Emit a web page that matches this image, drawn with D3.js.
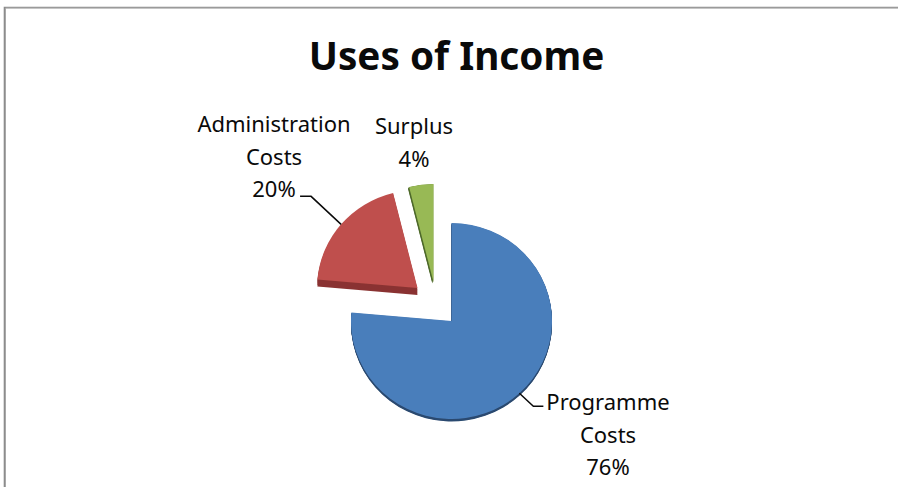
<!DOCTYPE html>
<html><head><meta charset="utf-8">
<script src="https://cdn.jsdelivr.net/npm/d3@7"></script>
<style>
html,body{margin:0;padding:0;background:#fff}
svg{display:block}
text{font-family:"Noto Sans","Open Sans",sans-serif;fill:#0a0a0a}
</style></head><body>
<div id="chart"></div>
<script>
const categories = ["Programme Costs", "Administration Costs", "Surplus"];
const values = [76.4, 19.7, 3.9];
const percentLabels = ["76%", "20%", "4%"];
const labelLines = [["Programme", "Costs"], ["Administration", "Costs"], ["Surplus"]];
const colors = ["#4a7ebb", "#bf504d", "#98b954"];
const sideColors = ["#2b4a70", "#8a3331", "#4f6a2c"];

const W = 898, H = 487;
const cx = 451.5, cy = 321, rx = 100.5, ry = 98;
const sliceOffset = [[0, 0], [-34, -33], [-18, -39]];
const sideDepth = [[0, 2.5], [0, 7], [-1.2, 1.5]];
const labelPos = [[608, 410], [274, 132], [414, 134]];
const lineGap = 32.7;
const leaderElbow = [[[14, 13], [24, 13]], [[-30, -28], [-41, -28]], null];

const svg = d3.select("#chart").append("svg").attr("width", W).attr("height", H);
const defs = svg.append("defs");
defs.append("filter").attr("id", "soft").attr("x", "-5%").attr("y", "-5%").attr("width", "110%").attr("height", "110%")
  .append("feGaussianBlur").attr("stdDeviation", 0.55);

svg.append("rect").attr("width", W).attr("height", H).attr("fill", "#fff");
svg.append("path").attr("d", `M4.5 ${H}V7.5H${W}`).attr("fill", "none").attr("stroke", "#8c8c8c").attr("stroke-width", 1.6);
svg.append("path").attr("d", `M5.5 ${H}V8H${W}`).attr("fill", "none").attr("stroke", "#a8a8a8").attr("stroke-width", 1);

svg.append("text").attr("x", 456.5).attr("y", 70).attr("text-anchor", "middle")
  .attr("font-size", 38.7).attr("font-weight", 700).text("Uses of Income");

const pie = d3.pie().sort(null).value(d => d)(values);
const arc = d3.arc().innerRadius(0).outerRadius(100);

const slices = svg.append("g").attr("filter", "url(#soft)");
pie.forEach((d, i) => {
  const [ox, oy] = sliceOffset[i];
  const [sx, sy] = sideDepth[i];
  const place = (dx, dy) => `translate(${cx + ox + dx},${cy + oy + dy}) scale(${rx / 100},${ry / 100})`;
  const steps = d3.range(1, 6).map(k => k / 5);
  steps.reverse().forEach(k => {
    slices.append("path").attr("d", arc(d)).attr("transform", place(sx * k, sy * k)).attr("fill", sideColors[i]);
  });
  slices.append("path").attr("d", arc(d)).attr("transform", place(0, 0)).attr("fill", colors[i]);
});

const lines = svg.append("g").attr("fill", "none").attr("stroke", "#0a0a0a").attr("stroke-width", 1.5);
pie.forEach((d, i) => {
  if (!leaderElbow[i]) return;
  const a = (d.startAngle + d.endAngle) / 2;
  const px = cx + sliceOffset[i][0] + Math.sin(a) * rx;
  const py = cy + sliceOffset[i][1] - Math.cos(a) * ry;
  const pts = [[px, py]].concat(leaderElbow[i].map(e => [px + e[0], py + e[1]]));
  lines.append("path").attr("d", d3.line()(pts));
});

const labels = svg.append("g").attr("text-anchor", "middle").attr("font-size", 22);
categories.forEach((c, i) => {
  labelLines[i].concat(percentLabels[i]).forEach((t, j) => {
    labels.append("text").attr("x", labelPos[i][0]).attr("y", labelPos[i][1] + j * lineGap).text(t);
  });
});
</script>
</body></html>
